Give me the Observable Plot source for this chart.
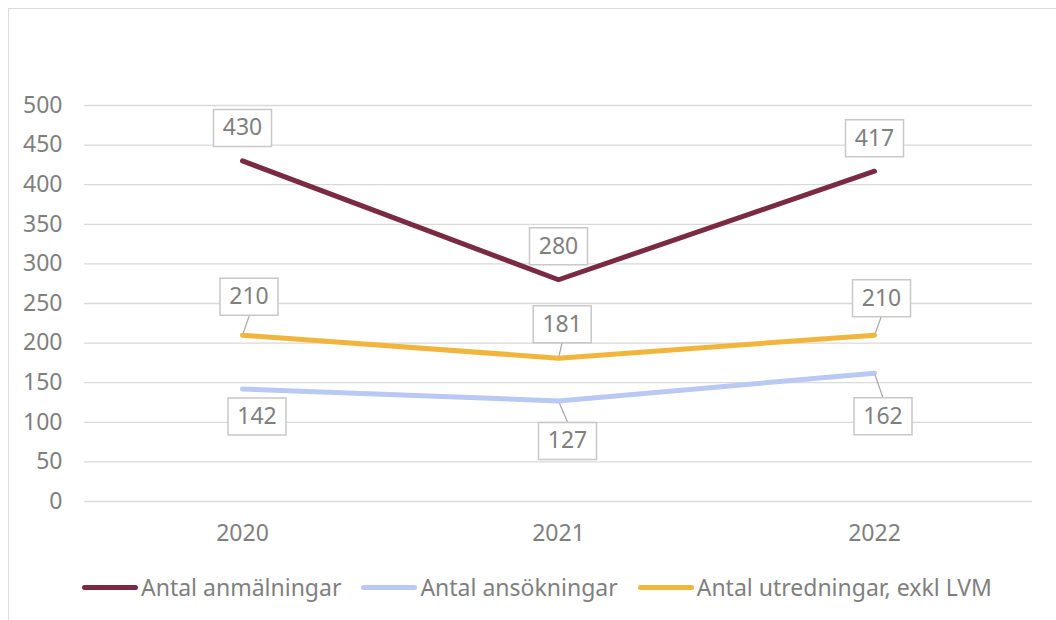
<!DOCTYPE html>
<html>
<head>
<meta charset="utf-8">
<script src="https://cdn.jsdelivr.net/npm/d3@7"></script>
<script src="https://cdn.jsdelivr.net/npm/@observablehq/plot@0.6"></script>
<style>
  html, body { margin: 0; padding: 0; background: #fff; overflow: hidden; width: 1056px; height: 620px; }
  #frame { position: absolute; left: 8px; top: 8px; width: 1100px; height: 700px; border: 1.5px solid #dcdcdc; box-sizing: border-box; }
  #chart { position: absolute; left: 0; top: 0; }
  #legend { position: absolute; left: 82px; top: 566px; height: 42px; display: flex; align-items: center; font-family: "Noto Sans", sans-serif; font-size: 23px; color: #7f7f7f; white-space: nowrap; }
  .item { display: flex; align-items: center; margin-right: 20px; }
  .sw { width: 56px; height: 5px; border-radius: 3px; margin-right: 3px; }
</style>
</head>
<body>
<div id="frame"></div>
<div id="chart"></div>
<div id="legend"></div>
<script>
const years = ["2020", "2021", "2022"];
const seriesNames = ["Antal anmälningar", "Antal ansökningar", "Antal utredningar, exkl LVM"];
const anmalningar = [430, 280, 417];
const ansokningar = [142, 127, 162];
const utredningar = [210, 181, 210];
const colors = ["#7b2a43", "#b9c9f3", "#f2b53c"];
const yTicks = [0, 50, 100, 150, 200, 250, 300, 350, 400, 450, 500];

// label box offsets in pixels from the data point, per series per year
const labelOffsets = [
  [[0, -33], [0, -33.5], [0, -33]],
  [[14.5, 27.5], [9, 40], [8.5, 43]],
  [[6.5, -38.5], [3.7, -34], [7, -37]]
];
// leader lines: [series index, year index, length px, angle deg]
const leaders = [
  [2, 0, 21, 19], [2, 1, 16, 13], [2, 2, 20, 20],
  [1, 1, 23, 157], [1, 2, 26, 161]
];

const seriesValues = [anmalningar, ansokningar, utredningar];
const rows = [];
seriesValues.forEach((vals, s) => vals.forEach((v, i) => rows.push({series: seriesNames[s], year: years[i], value: v, s, i})));

const textColor = "#7f7f7f";
const fontFamily = "'Noto Sans', sans-serif";
const boxSymbol = {draw(context) { context.rect(-29, -18.5, 58, 37); }};
const leaderShape = {draw(context, l) { context.moveTo(0, 0); context.lineTo(0, -l); }};

const marks = [
  Plot.ruleY(yTicks, {stroke: "#d9d9d9", strokeWidth: 1.3}),
  ...leaders.map(([s, i, len, ang]) =>
    Plot.vector([rows.find(r => r.s === s && r.i === i)], {
      x: "year", y: "value", length: len, rotate: ang, anchor: "start",
      shape: leaderShape, stroke: "#a6a6a6", strokeWidth: 1.2
    })),
  Plot.line(rows, {x: "year", y: "value", z: "series", stroke: "series", strokeWidth: 5, strokeLinecap: "round", strokeLinejoin: "round"}),
  ...rows.map(r => {
    const [dx, dy] = labelOffsets[r.s][r.i];
    return Plot.dot([r], {x: "year", y: "value", dx, dy, symbol: boxSymbol, fill: "white", stroke: "#c8c8c8", strokeWidth: 1.5});
  }),
  ...rows.map(r => {
    const [dx, dy] = labelOffsets[r.s][r.i];
    return Plot.text([r], {x: "year", y: "value", text: d => String(d.value), dx, dy, fill: textColor, fontSize: 23, fontFamily});
  })
];

const chart = Plot.plot({
  width: 1056,
  height: 560,
  marginLeft: 84,
  marginRight: 24,
  marginTop: 105,
  marginBottom: 59,
  style: {fontFamily, fontSize: "23px", color: textColor, background: "transparent", overflow: "visible"},
  x: {type: "point", domain: years, padding: 0.5, label: null, tickSize: 0, tickPadding: 23},
  y: {domain: [0, 500], ticks: yTicks, label: null, tickSize: 0, tickPadding: 22},
  color: {domain: seriesNames, range: colors},
  marks
});
document.getElementById("chart").appendChild(chart);

const legend = document.getElementById("legend");
seriesNames.forEach((name, k) => {
  const it = document.createElement("div");
  it.className = "item";
  const sw = document.createElement("div");
  sw.className = "sw";
  sw.style.background = colors[k];
  const tx = document.createElement("span");
  tx.textContent = name;
  it.appendChild(sw);
  it.appendChild(tx);
  legend.appendChild(it);
});
</script>
</body>
</html>
